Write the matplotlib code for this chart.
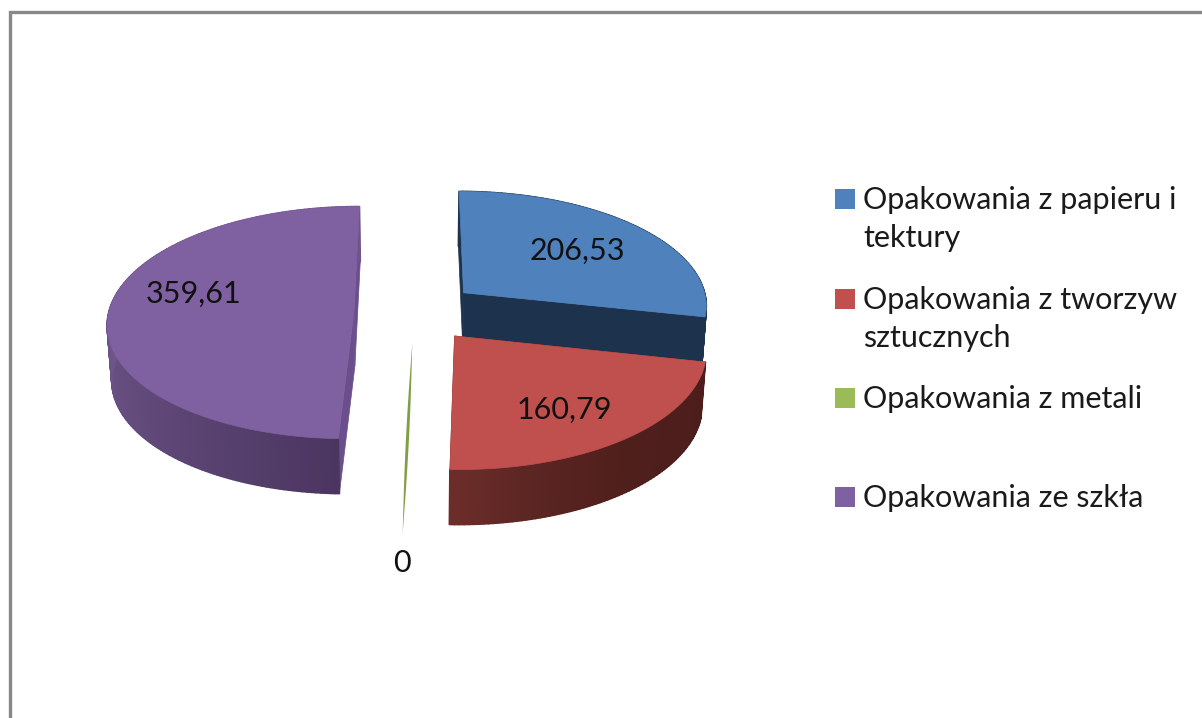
import numpy as np
import matplotlib
matplotlib.use("Agg")
import matplotlib.pyplot as plt
from matplotlib.collections import PolyCollection
from matplotlib.patches import Polygon, Rectangle

plt.rcParams['font.family'] = ['Lato', 'DejaVu Sans']

categories = ["Opakowania z papieru i\ntektury", "Opakowania z tworzyw\nsztucznych",
              "Opakowania z metali", "Opakowania ze szkła"]
values = [206.53, 160.79, 0, 359.61]
value_labels = ["206,53", "160,79", "0", "359,61"]

top_colors = ["#4f81bd", "#c0504d", "#9bbb59", "#7f60a0"]
cut_colors = ["#1d324d", "#5e2422", "#6f8f3a", "#6a4f8c"]
# wall shade along the outer arc, first to last angle of the slice
wall_colors = [["#1d324d", "#1d324d"],
               ["#4c1d1b", "#4d1e1c", "#4f1f1c", "#592421", "#6c2d2a"],
               ["#6f8f3a", "#6f8f3a"],
               ["#4b3660", "#5f4878", "#6f5488", "#6f5488", "#6f5488"]]
label_pos = [(577, 251), (564, 410), (402, 563), (193, 294)]
legend_y = [199, 299, 398, 497]
explode = [0.264, 0.264, 0.264, 0.245]

# projection of the pie disc to the picture, pixels
cx, cy, rx, ry = 414, 311.5, 245, 115
persp = 0.10
depth = 55
taper = 0.985


def project(u, v):
    w = 1 + persp * v
    return cx + rx * u / w, cy - ry * v / w


def lower(x, y):
    # same point at the foot of the wall
    return cx + (x - cx) * taper, y + depth


def slice_outline(a0, a1, off):
    ang = np.linspace(a0, a1, max(int(np.degrees(a1 - a0)), 2))
    u = off[0] + np.sin(ang)
    v = off[1] + np.cos(ang)
    return project(u, v)


def mix(colors, t):
    rgb = np.array([matplotlib.colors.to_rgb(c) for c in colors])
    pos = np.linspace(0, 1, len(colors))
    return [np.interp(t, pos, rgb[:, i]) for i in range(3)]


fig = plt.figure(figsize=(12.02, 7.18), dpi=100)
ax = fig.add_axes([0, 0, 1, 1])
ax.set_xlim(0, 1202)
ax.set_ylim(718, 0)
ax.axis('off')

# frame of the chart area
ax.plot([9.5, 9.5, 1202], [718, 11.5, 11.5], color="#888888", lw=2.4, solid_joinstyle='miter')

fracs = np.array(values) / sum(values)
ends = np.cumsum(fracs) * 2 * np.pi
starts = ends - fracs * 2 * np.pi

for i in [3, 2, 0, 1]:
    a0, a1 = starts[i], ends[i]
    mid = (a0 + a1) / 2
    off = (explode[i] * np.sin(mid), explode[i] * np.cos(mid))
    ax_, ay_ = project(*off)

    if values[i] == 0:
        # empty slice, only a sliver is left of it
        rim_x, rim_y = project(off[0] + np.sin(a0), off[1] + np.cos(a0))
        t = np.linspace(0, 1, 40)
        ys = ay_ + t * (rim_y + depth - ay_)
        xs = ax_ + t * (rim_x - ax_)
        half = 1.5 * np.sin(np.pi * t)
        ax.fill_betweenx(ys, xs - half, xs + half, color="#7f9f45", lw=0)
        continue

    xs, ys = slice_outline(a0, a1, off)

    # the two cut faces
    for k in [0, -1]:
        ax.add_patch(Polygon([(ax_, ay_), (xs[k], ys[k]), lower(xs[k], ys[k]), lower(ax_, ay_)],
                             facecolor=cut_colors[i], edgecolor=cut_colors[i], lw=0.5))

    # outer wall, split in small quads for the shading
    quads, shades = [], []
    for j in range(len(xs) - 1):
        quads.append([(xs[j], ys[j]), (xs[j + 1], ys[j + 1]),
                      lower(xs[j + 1], ys[j + 1]), lower(xs[j], ys[j])])
        shades.append(mix(wall_colors[i], j / (len(xs) - 2)))
    ax.add_collection(PolyCollection(quads, facecolors=shades, edgecolors=shades, linewidths=1.2))

    top = np.column_stack([np.r_[ax_, xs], np.r_[ay_, ys]])
    ax.add_patch(Polygon(top, facecolor=top_colors[i], edgecolor=top_colors[i], lw=0.5))

for i in range(len(values)):
    ax.text(label_pos[i][0], label_pos[i][1], value_labels[i], fontsize=22, color="#111111",
            ha='center', va='center')
    ax.add_patch(Rectangle((835, legend_y[i] - 10), 20, 20, facecolor=top_colors[i], edgecolor='none'))
    ax.text(863, legend_y[i] - 13, categories[i], fontsize=22, color="#1a1a1a",
            ha='left', va='top', linespacing=1.44)

fig.savefig("out.png", dpi=100)
